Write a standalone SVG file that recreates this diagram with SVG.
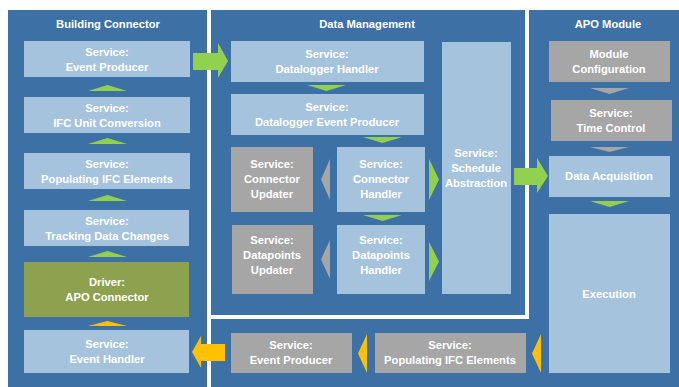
<svg xmlns="http://www.w3.org/2000/svg" width="679" height="387" viewBox="0 0 679 387">
<style>
text{font-family:"Liberation Sans",Arial,sans-serif;font-weight:bold;font-size:11.2px;fill:#fff;text-anchor:middle}
.lt{fill:#A6C3DE}
.gr{fill:#A6A6A6}
.ol{fill:#8EA14F}
.gn{fill:#92D050}
.or{fill:#FFC000}
.gy{fill:#A6A6A6}
.wl{fill:#fff}
</style>
<rect x="0" y="0" width="679" height="387" fill="#fff"/>
<g id="panels">
<rect x="8" y="10" width="671" height="377" fill="#3D71A5"/>
<rect class="wl" x="207" y="10" width="4" height="377"/>
<rect class="wl" x="525" y="10" width="4" height="309"/>
<rect class="wl" x="211" y="315" width="318" height="4"/>
<text x="108" y="28">Building Connector</text>
<text x="367" y="28">Data Management</text>
<text x="608" y="28">APO Module</text>
</g>
<g id="bc-event-producer"><rect class="lt" x="24" y="41" width="166" height="36"/><text x="107" y="56">Service:</text><text x="107" y="71">Event Producer</text></g>
<g id="bc-ifc-unit"><rect class="lt" x="24" y="97" width="166" height="36"/><text x="107" y="112">Service:</text><text x="107" y="127">IFC Unit Conversion</text></g>
<g id="bc-populating"><rect class="lt" x="24" y="153" width="166" height="36"/><text x="107" y="168">Service:</text><text x="107" y="183">Populating IFC Elements</text></g>
<g id="bc-tracking"><rect class="lt" x="24" y="210" width="165" height="36"/><text x="107" y="225">Service:</text><text x="107" y="240">Tracking Data Changes</text></g>
<g id="bc-driver"><rect class="ol" x="24" y="262" width="165" height="55"/><text x="107" y="286">Driver:</text><text x="107" y="301">APO Connector</text></g>
<g id="bc-event-handler"><rect class="lt" x="24" y="330" width="165" height="43"/><text x="107" y="348">Service:</text><text x="107" y="363">Event Handler</text></g>
<g id="dm-datalogger-handler"><rect class="lt" x="231" y="41" width="193" height="41"/><text x="327" y="58">Service:</text><text x="327" y="73">Datalogger Handler</text></g>
<g id="dm-datalogger-event"><rect class="lt" x="231" y="94" width="193" height="41"/><text x="327" y="111">Service:</text><text x="327" y="126">Datalogger Event Producer</text></g>
<g id="dm-connector-updater"><rect class="gr" x="231" y="147" width="82" height="65"/><text x="272" y="168">Service:</text><text x="272" y="183">Connector</text><text x="272" y="198">Updater</text></g>
<g id="dm-connector-handler"><rect class="lt" x="337" y="147" width="88" height="65"/><text x="381" y="168">Service:</text><text x="381" y="183">Connector</text><text x="381" y="198">Handler</text></g>
<g id="dm-datapoints-updater"><rect class="gr" x="232" y="225" width="81" height="69"/><text x="272" y="244">Service:</text><text x="272" y="259">Datapoints</text><text x="272" y="274">Updater</text></g>
<g id="dm-datapoints-handler"><rect class="lt" x="337" y="225" width="88" height="69"/><text x="381" y="244">Service:</text><text x="381" y="259">Datapoints</text><text x="381" y="274">Handler</text></g>
<g id="dm-schedule"><rect class="lt" x="442" y="42" width="69" height="252"/><text x="476" y="157">Service:</text><text x="476" y="172">Schedule</text><text x="476" y="187">Abstraction</text></g>
<g id="apo-module-config"><rect class="gr" x="549" y="41" width="121" height="41"/><text x="609" y="58">Module</text><text x="609" y="73">Configuration</text></g>
<g id="apo-time-control"><rect class="gr" x="551" y="100" width="121" height="41"/><text x="611" y="117">Service:</text><text x="611" y="132">Time Control</text></g>
<g id="apo-data-acq"><rect class="lt" x="549" y="156" width="121" height="41"/><text x="609" y="180">Data Acquisition</text></g>
<g id="apo-execution"><rect class="lt" x="549" y="214" width="121" height="159"/><text x="609" y="298">Execution</text></g>
<g id="bottom-event-producer"><rect class="gr" x="231" y="333" width="121" height="40"/><text x="291" y="349">Service:</text><text x="291" y="364">Event Producer</text></g>
<g id="bottom-populating"><rect class="gr" x="375" y="333" width="151" height="40"/><text x="450" y="349">Service:</text><text x="450" y="364">Populating IFC Elements</text></g>
<g id="connectors">
<polygon class="gn" points="88,91 107.5,85 127,91"/>
<polygon class="gn" points="88,144 107.5,138 127,144"/>
<polygon class="gn" points="88,201 107.5,195 127,201"/>
<polygon class="gn" points="88,257 107.5,251 127,257"/>
<polygon class="or" points="88,326 107.5,321 127,326"/>
<polygon class="gn" points="193,53 218,53 218,43 228,61 218,78 218,70 193,70"/>
<polygon class="gn" points="307,85 346,85 326.5,91"/>
<polygon class="gn" points="363,137 402,137 382.5,143"/>
<polygon class="gn" points="363,215 402,215 382.5,221"/>
<polygon class="gy" points="330,159 321,179.5 330,200"/>
<polygon class="gy" points="330,240 321,259.5 330,279"/>
<polygon class="gn" points="429,159 439,179.5 429,200"/>
<polygon class="gn" points="429,242 439,261.5 429,281"/>
<polygon class="gn" points="514,168 537,168 537,158 548,176 537,193 537,185 514,185"/>
<polygon class="gy" points="590,88 629,88 609.5,94"/>
<polygon class="gy" points="590,147 629,147 609.5,152"/>
<polygon class="gn" points="590,201 629,201 609.5,207"/>
<polygon class="or" points="541,334 532,353.5 541,373"/>
<polygon class="or" points="367,334 358,353.5 367,373"/>
<polygon class="or" points="225,344 201,344 201,336 192,352 201,368 201,361 225,361"/>
</g>
</svg>
